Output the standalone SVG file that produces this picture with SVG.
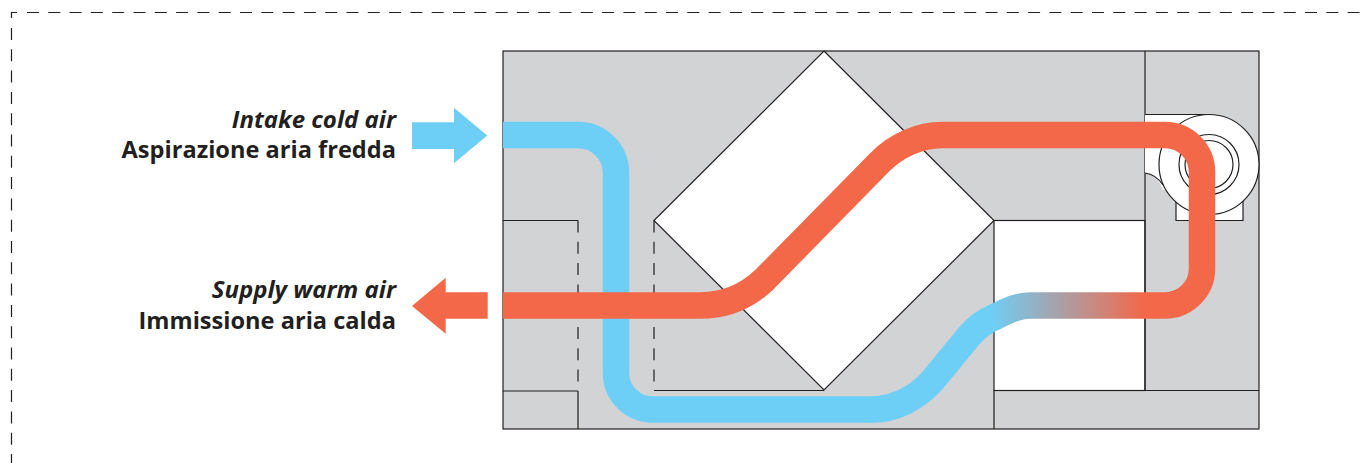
<svg xmlns="http://www.w3.org/2000/svg" width="1365" height="463" viewBox="0 0 1365 463">
<style>
.ln{fill:none;stroke:#231f20;stroke-width:1.2}
.ds{fill:none;stroke:#231f20;stroke-width:1.2;stroke-dasharray:12 9.3}
.w{fill:#fff;stroke:#231f20;stroke-width:1.2}
.flow{fill:none;stroke-width:26.500}
text{font-family:"Open Sans","Noto Sans","Liberation Sans",sans-serif;font-size:23.600px;font-weight:700;fill:#231f20;text-anchor:end}
.it{font-style:italic;font-size:24px}
</style>
<defs>
<linearGradient id="mix" gradientUnits="userSpaceOnUse" x1="990" y1="0" x2="1145" y2="0">
<stop offset="0" stop-color="#6dcff6"/><stop offset="1" stop-color="#f36848"/>
</linearGradient>
</defs>
<g id="frame">
<path class="ln" d="M11.500 18V12.500H17"/>
<path class="ds" d="M27 12.500H1365"/>
<path class="ds" d="M11.500 28V463"/>
</g>
<g id="unit">
<rect x="503" y="51" width="756" height="378" fill="#d1d3d4" stroke="#231f20" stroke-width="1.2"/>
<path class="w" d="M824 51L994 220.500L824 390L654 220.500Z"/>
<rect class="w" x="994" y="220.500" width="151" height="170"/>
<path class="ln" d="M1145 51V390M994 390.500H1259M994 390V429M503 220.500H578M503 391H578M578 391V429M654 390.500H824"/>
<path class="ds" d="M578 220.500V391M654 220.500V391"/>
</g>
<g id="fan">
<path class="w" d="M1176 198V220.500H1243V198Z"/>
<path fill="#fff" d="M1145 114.500H1209V190H1163C1159 179 1153 174 1145 173Z"/>
<path class="ln" d="M1145 114.500H1209M1145 173C1153 174 1159 179 1163 185"/>
<circle class="w" cx="1209" cy="164.500" r="50"/>
<circle class="ln" cx="1209" cy="164.500" r="30"/>
<circle class="ln" cx="1209" cy="164.500" r="24"/>
</g>
<g id="connectors">
<path class="flow" stroke="#6dcff6" d="M503 135H578A38 38 0 0 1 616 173V373A37 36.500 0 0 0 653 409.500H872C895 409.500 917 398 933 380L969 336C977 327 985 321 993.500 317.500L998 315.600"/>
<path class="flow" stroke="url(#mix)" d="M993.500 317.500C1006 312 1016 305.500 1030 305.500H1145"/>
<path class="flow" stroke="#f36848" d="M1145 305.500H1165A37 37 0 0 0 1202 268.500V172A37 37 0 0 0 1165 135H942C920 135 897 145 880 162L764 280C746 297 725 305.500 700 305.500H503"/>
<path fill="#6dcff6" d="M412 122.300H454V107.700L487.300 135.500L454 163.300V149H412Z"/>
<path fill="#f36848" d="M487.700 292.300H445.700V277.700L412 306L445.700 333.700V318.700H487.700Z"/>
</g>
<g id="label-intake"><text class="it" x="396" y="128">Intake cold air</text><text x="396" y="157.500">Aspirazione aria fredda</text></g>
<g id="label-supply"><text class="it" x="396" y="297.500">Supply warm air</text><text x="396" y="328.500">Immissione aria calda</text></g>
</svg>
